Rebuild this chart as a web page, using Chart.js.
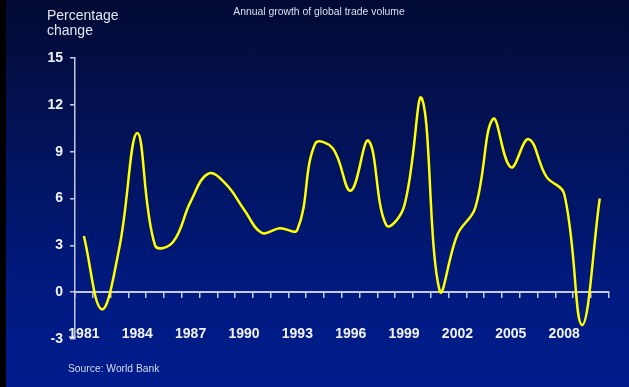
<!DOCTYPE html>
<html>
<head>
<meta charset="utf-8">
<script src="https://cdn.jsdelivr.net/npm/chart.js@4/dist/chart.umd.min.js"></script>
<style>
  html, body { margin: 0; padding: 0; background: #000; }
  #wrap {
    position: relative;
    width: 629px;
    height: 387px;
    overflow: hidden;
    background:
      linear-gradient(to right, #000 0, #000 6px, transparent 6px),
      linear-gradient(to bottom, #020a33 0%, #03104e 25%, #001566 50%, #001a80 75%, #001d8c 100%);
    font-family: "Liberation Sans", Arial, sans-serif;
  }
  #chart { position: absolute; left: 0; top: 0; }
  .txt { position: absolute; white-space: nowrap; }
  #ytitle { left: 47px; top: 8px; font-size: 14px; line-height: 14.7px; color: #e4e6f0; }
  #title { left: 0; width: 638px; text-align: center; top: 6px; font-size: 10.4px; line-height: 12px; color: #dcdfee; }
  #source { left: 68px; top: 363px; font-size: 10.3px; line-height: 12px; color: #d4d8ea; }
</style>
</head>
<body>
<div id="wrap">
  <canvas id="chart" width="629" height="387"></canvas>
  <div class="txt" id="ytitle">Percentage<br>change</div>
  <div class="txt" id="title">Annual growth of global trade volume</div>
  <div class="txt" id="source">Source: World Bank</div>
</div>
<script>
// Years on the category axis
const years = [
  '1981', '1982', '1983', '1984', '1985', '1986', '1987', '1988', '1989', '1990',
  '1991', '1992', '1993', '1994', '1995', '1996', '1997', '1998', '1999', '2000',
  '2001', '2002', '2003', '2004', '2005', '2006', '2007', '2008', '2009', '2010'
];

// Annual growth of global trade volume, percent
const tradeGrowth = [
  3.6, -1.1, 2.9, 10.2, 3.0, 3.2, 5.8, 7.6, 6.9, 5.3,
  3.8, 4.1, 4.0, 9.5, 9.2, 6.5, 9.7, 4.3, 5.5, 12.4,
  0.1, 3.7, 5.4, 11.1, 8.0, 9.8, 7.4, 6.3, -2.1, 6.0
];

// Value axis range and step
const yMin = -3;
const yMax = 15;
const yStep = 3;

// Every third year gets a label
const labelEvery = 3;

const axisColor = '#c4c8de';
const labelFont = { family: "'Liberation Sans', Arial, sans-serif", size: 14, weight: 'bold' };

new Chart(document.getElementById('chart'), {
  type: 'line',
  data: {
    labels: years,
    datasets: [{
      data: tradeGrowth,
      borderColor: '#ffff00',
      borderWidth: 2.5,
      pointRadius: 0,
      pointHoverRadius: 0,
      tension: 0.4,
      fill: false
    }]
  },
  options: {
    responsive: false,
    animation: false,
    events: [],
    layout: { padding: { left: 0, top: 58, right: 15, bottom: 48 } },
    plugins: {
      legend: { display: false },
      tooltip: { enabled: false },
      title: { display: false }
    },
    scales: {
      x: {
        type: 'category',
        position: { y: 0 },
        offset: true,
        grid: {
          offset: true,
          drawOnChartArea: false,
          drawTicks: true,
          tickLength: 5,
          color: axisColor,
          lineWidth: 1.5
        },
        border: { display: true, color: axisColor, width: 2 },
        ticks: {
          autoSkip: false,
          maxRotation: 0,
          minRotation: 0,
          padding: 29,
          color: '#f2f3fa',
          font: labelFont,
          callback: function (value, index) {
            return index % labelEvery === 0 ? this.getLabelForValue(value) : '';
          }
        },
        afterFit: (scale) => { scale.height = 0; }
      },
      y: {
        position: 'left',
        min: yMin,
        max: yMax,
        grid: {
          drawOnChartArea: false,
          drawTicks: true,
          tickLength: 5,
          color: axisColor,
          lineWidth: 1.5
        },
        border: { display: true, color: axisColor, width: 1.5 },
        ticks: {
          stepSize: yStep,
          padding: 7,
          color: '#f2f3fa',
          font: labelFont
        },
        afterFit: (scale) => { scale.width = 75; }
      }
    }
  }
});
</script>
</body>
</html>
